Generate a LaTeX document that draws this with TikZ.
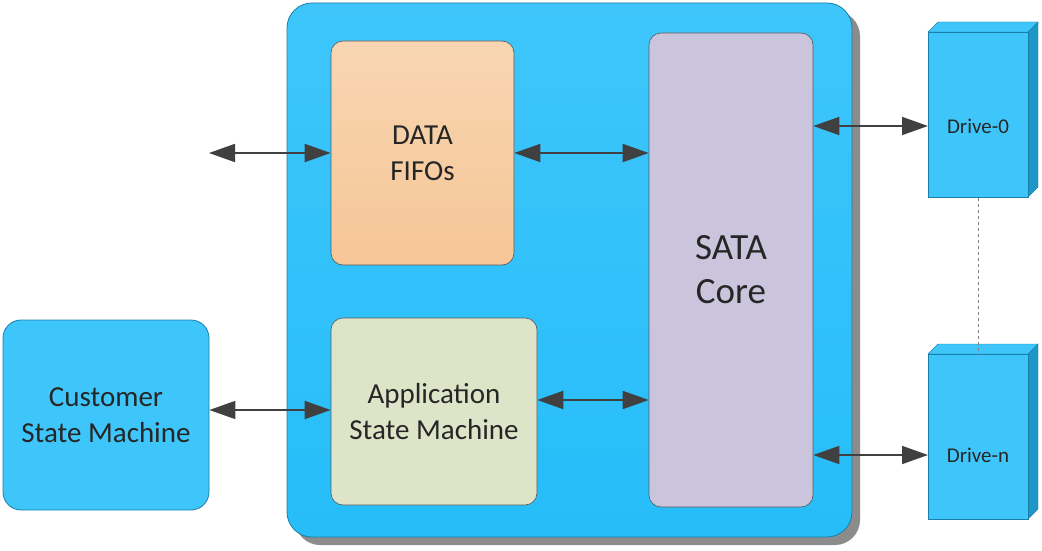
\documentclass[tikz,border=0pt]{standalone}
\usepackage{fontspec}
\setmainfont{Carlito}
\usetikzlibrary{arrows.meta,shadows}
\definecolor{bl}{HTML}{26BDF9}
\definecolor{bll}{HTML}{3EC6FB}
\definecolor{bd}{HTML}{1A7FA8}
\definecolor{ar}{HTML}{404040}
\begin{document}
\begin{tikzpicture}[x=1pt,y=-1pt,
  box/.style={draw=gray!70!black,line width=0.6pt,rounded corners=12pt,align=center,text=black!85,inner sep=0pt},
  link/.style={ar,line width=1.8pt,{Triangle[length=26pt,width=18pt]}-{Triangle[length=26pt,width=18pt]}}]
\useasboundingbox (0,0) rectangle (1042,551);
% container
\fill[gray!90] (295,11) [rounded corners=25pt] rectangle (860,545);
\draw[bd,line width=0.8pt,top color=bll,bottom color=bl,rounded corners=25pt] (287,3) rectangle (852,537);
\node[box,minimum width=183pt,minimum height=224pt,top color=orange!25!white!90!brown,bottom color=orange!35!white!85!brown,font=\fontsize{29}{36}\selectfont] (fifo) at (422.5,153) {DATA\\FIFOs};
\node[box,minimum width=206pt,minimum height=187pt,fill={rgb,255:red,221;green,228;blue,200},font=\fontsize{29}{36}\selectfont] (app) at (434,411.5) {Application\\State Machine};
\node[box,minimum width=164pt,minimum height=474pt,fill={rgb,255:red,202;green,196;blue,220},font=\fontsize{37}{44}\selectfont] (sata) at (731,270) {SATA\\Core};
\node[draw=bd,line width=0.8pt,fill=bll,rounded corners=18pt,minimum width=206pt,minimum height=190pt,align=center,font=\fontsize{29}{36}\selectfont,text=black!85] (cust) at (106,415) {Customer\\State Machine};
% drives
\foreach \n/\t/\y/\ly in {d0/Drive-0/32/126,dn/Drive-n/354/455}{
  \fill[bl!80!black,draw=bd] (1028,\y) -- (1038,\y-10) -- (1038,\y+155) -- (1028,\y+165) -- cycle;
  \fill[bll,draw=bd] (928,\y) -- (938,\y-10) -- (1038,\y-10) -- (1028,\y) -- cycle;
  \node[draw=bd,line width=0.8pt,fill=bll,minimum width=100pt,minimum height=165pt,anchor=north west,inner sep=0pt] (\n) at (928,\y) {};
  \node[font=\fontsize{21}{24}\selectfont,text=black!85] (\n t) at (978,\ly) {\t};
}
\draw[gray,dashed] (d0.south) -- (dn.north);
\coordinate (ext) at (209,153);
\draw[link] (ext) -- (fifo.west);
\draw[link] (fifo.east) -- (sata.west |- fifo.east);
\draw[link] (cust.east |- 0,410) -- (app.west |- 0,410);
\draw[link] (app.east |- 0,400) -- (sata.west |- 0,400);
\draw[link] (sata.east |- 0,126) -- (d0.west |- 0,126);
\draw[link] (sata.east |- 0,455) -- (dn.west |- 0,455);
\end{tikzpicture}
\end{document}
